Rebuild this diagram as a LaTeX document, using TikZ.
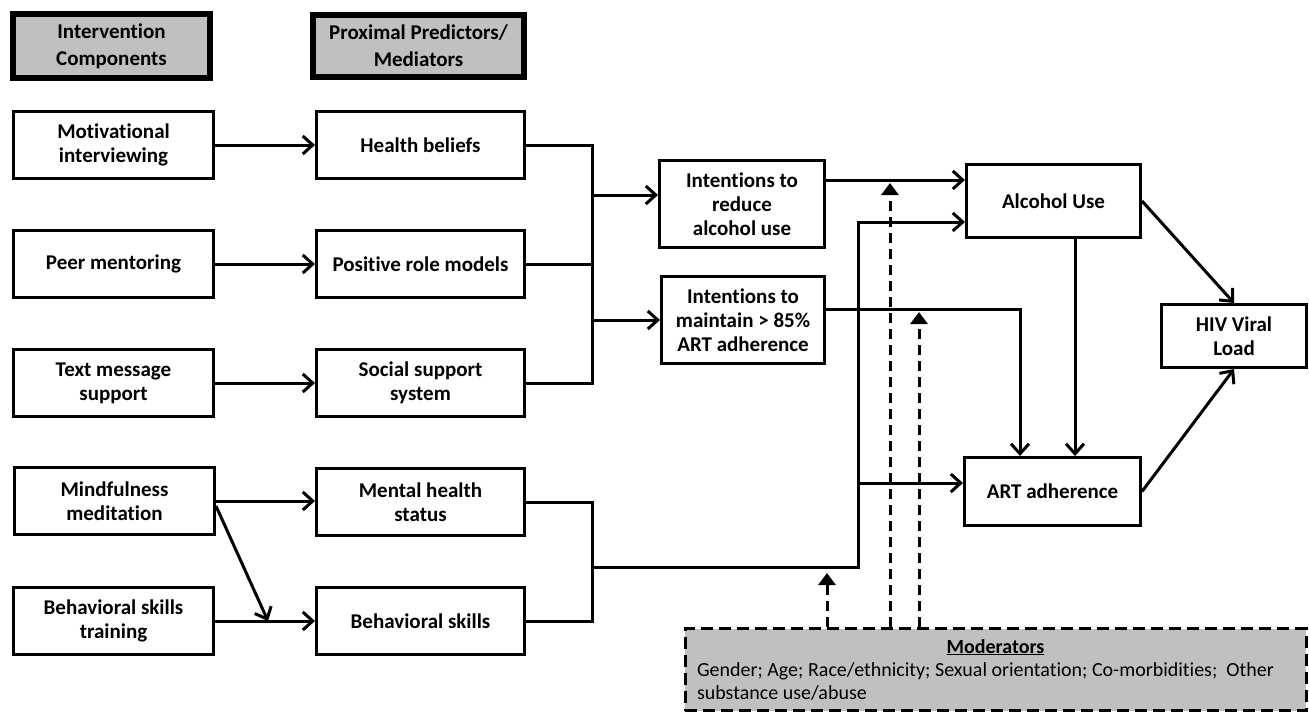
\documentclass[tikz,border=0pt]{standalone}
\usepackage{fontspec}
\setmainfont{Carlito}[Ligatures=NoCommon]
\usetikzlibrary{arrows.meta}

\definecolor{headgray}{RGB}{192,192,192}
\newcommand{\boxfont}{\fontsize{21}{24}\selectfont\bfseries}
\newcommand{\modfont}{\fontsize{20}{23}\selectfont}

\tikzstyle{box} = [draw, line width=3pt, minimum height=67pt, align=center, font=\boxfont, inner sep=2pt]
\tikzstyle{leftbox} = [box, minimum width=200pt]
\tikzstyle{midbox} = [box, minimum width=208pt]
\tikzstyle{headbox} = [box, line width=6pt, fill=headgray, font=\fontsize{21}{27}\selectfont\bfseries]
\tikzstyle{modbox} = [draw, line width=3pt, dash pattern=on 12pt off 6pt, fill=headgray, font=\modfont, align=flush left, inner sep=0pt]
\tikzstyle{link} = [line width=3pt]
\tikzstyle{flow} = [line width=3pt, -{Straight Barb[length=10pt,width=18pt]}]
\tikzstyle{modflow} = [line width=3pt, dash pattern=on 10pt off 6pt, -{Triangle[length=12pt,width=17pt]}]

\begin{document}
\begin{tikzpicture}[x=1pt,y=-1pt]
      \useasboundingbox (0,0) rectangle (1309,713);
      % column heads
      \node[headbox, minimum width=197pt, minimum height=64pt] (hic) at (111.5,46) {Intervention\\Components};
      \node[headbox, minimum width=211pt, minimum height=62pt] (hpp) at (418.5,46) {Proximal Predictors/\\Mediators};
      % intervention components
      \node[leftbox] (mi) at (113.5,145) {Motivational\\interviewing};
      \node[leftbox] (pm) at (113.5,264) {Peer mentoring};
      \node[leftbox] (tm) at (113.5,383) {Text message\\support};
      \node[leftbox] (mm) at (114.5,501) {Mindfulness\\meditation};
      \node[leftbox] (bst) at (113.5,621) {Behavioral skills\\training};
      % proximal predictors / mediators
      \node[midbox] (hb) at (420.5,145) {Health beliefs};
      \node[midbox] (prm) at (420.5,264) {Positive role models};
      \node[midbox] (ss) at (420.5,383) {Social support\\system};
      \node[midbox] (mh) at (420.5,502) {Mental health\\status};
      \node[midbox] (bs) at (420.5,621) {Behavioral skills};
      % intentions and outcomes
      \node[box, minimum width=165pt, minimum height=87pt] (ir) at (742,204) {Intentions to\\reduce\\alcohol use};
      \node[box, minimum width=163pt, minimum height=87pt] (im) at (743,320) {Intentions to\\maintain > 85\%\\ART adherence};
      \node[box, minimum width=174pt, minimum height=73pt] (au) at (1053.5,201) {Alcohol Use};
      \node[box, minimum width=176pt, minimum height=68pt] (art) at (1052.5,491.5) {ART adherence};
      \node[box, minimum width=145pt, minimum height=63pt] (hiv) at (1234,336) {HIV Viral\\Load};
      \node[modbox, minimum width=621pt, minimum height=82pt, text width=597pt] (mod) at (995.5,669.5)
        {\makebox[\linewidth]{\bfseries\underline{Moderators}}\\Gender; Age; Race/ethnicity; Sexual orientation; Co-morbidities;~ Other\\substance use/abuse};
      % bend points
      \coordinate (b1t) at (592,145);
      \coordinate (b1b) at (592,383);
      \coordinate (j1) at (592,195);
      \coordinate (j2) at (592,320);
      \coordinate (b2t) at (592,502);
      \coordinate (b2b) at (592,621);
      \coordinate (b2m) at (592,567);
      \coordinate (k1) at (858,567);
      \coordinate (k2) at (858,222);
      \coordinate (k3) at (858,483);
      \coordinate (r1) at (900,180);
      \coordinate (m1) at (1020,309);
      \coordinate (v1) at (1075,300);
      \coordinate (bsin) at (268,621);
      \coordinate (d1) at (827,573);
      \coordinate (d2) at (890,183);
      \coordinate (d3) at (919,312);
      % components to mediators
      \draw[flow] (mi) -- (hb);
      \draw[flow] (pm) -- (prm);
      \draw[flow] (tm) -- (ss);
      \draw[flow] (mm.east) -- (mm.east -| mh.west);
      \draw[flow] (bst) -- (bs);
      \draw[flow] ([yshift=-5pt]mm.east) -- (bsin);
      % mediators to intentions
      \draw[link] (hb.east) -- (b1t) -- (b1b) -- (ss.east);
      \draw[link] (prm.east) -- (prm.east -| b1t);
      \draw[flow] (j1) -- (j1 -| ir.west);
      \draw[flow] (j2) -- (j2 -| im.west);
      \draw[link] (mh.east) -- (b2t) -- (b2b) -- (bs.east);
      \draw[flow] (b2m) -- (k1) -- (k2) -- (k2 -| au.west);
      \draw[flow] (k3) -- (k3 -| art.west);
      % intentions to outcomes
      \draw[flow] (r1 -| ir.east) -- (r1 -| au.west);
      \draw[flow] (m1 -| im.east) -- (m1) -- (m1 |- art.north);
      \draw[flow] (v1 |- au.south) -- (v1 |- art.north);
      \draw[flow] (au.east) -- (hiv.north);
      \draw[flow] (art.east) -- (hiv.south);
      % moderators
      \draw[modflow] (d1 |- mod.north) -- (d1);
      \draw[modflow] (d2 |- mod.north) -- (d2);
      \draw[modflow] (d3 |- mod.north) -- (d3);
\end{tikzpicture}
\end{document}
